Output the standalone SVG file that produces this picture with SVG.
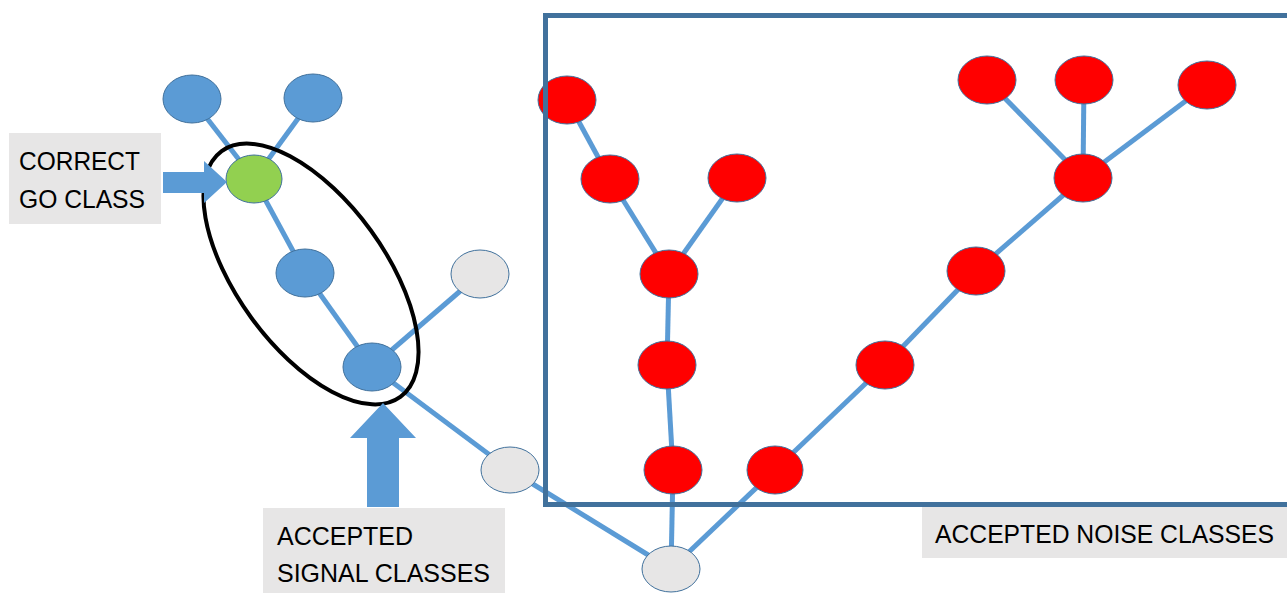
<svg xmlns="http://www.w3.org/2000/svg" width="1287" height="593" viewBox="0 0 1287 593">
<style>
.e{stroke:#5B9BD5;stroke-width:5;fill:none}
.blue{fill:#5B9BD5;stroke:#41719C;stroke-width:1}
.green{fill:#92D050;stroke:#41719C;stroke-width:1}
.grey{fill:#E7E6E6;stroke:#41719C;stroke-width:1}
.red{fill:#FF0000;stroke:#41719C;stroke-width:1}
.lbl{fill:#E7E6E6}
.t{font-family:"Liberation Sans",Arial,sans-serif;font-size:26px;fill:#000}
.arrow{fill:#5B9BD5}
</style>
<rect width="1287" height="593" fill="#fff"/>
<g id="connectors">
<line class="e" x1="192" y1="99" x2="254" y2="179"/>
<line class="e" x1="313" y1="98" x2="254" y2="179"/>
<line class="e" x1="254" y1="179" x2="305" y2="273"/>
<line class="e" x1="305" y1="273" x2="372" y2="367"/>
<line class="e" x1="372" y1="367" x2="480" y2="274"/>
<line class="e" x1="372" y1="367" x2="510" y2="470"/>
<line class="e" x1="510" y1="470" x2="671" y2="569"/>
<line class="e" x1="673" y1="470" x2="671" y2="569"/>
<line class="e" x1="775" y1="470" x2="671" y2="569"/>
<line class="e" x1="567" y1="100" x2="610" y2="179"/>
<line class="e" x1="610" y1="179" x2="669" y2="274"/>
<line class="e" x1="737" y1="178" x2="669" y2="274"/>
<line class="e" x1="669" y1="274" x2="667" y2="365"/>
<line class="e" x1="667" y1="365" x2="673" y2="470"/>
<line class="e" x1="775" y1="470" x2="885" y2="365"/>
<line class="e" x1="885" y1="365" x2="976" y2="271"/>
<line class="e" x1="976" y1="271" x2="1083" y2="178"/>
<line class="e" x1="1083" y1="178" x2="987" y2="80"/>
<line class="e" x1="1083" y1="178" x2="1084" y2="80"/>
<line class="e" x1="1083" y1="178" x2="1207" y2="85"/>
</g>
<g id="n-blue-tl"><ellipse class="blue" cx="192" cy="99" rx="29" ry="24"/></g>
<g id="n-blue-tr"><ellipse class="blue" cx="313" cy="98" rx="29" ry="24"/></g>
<g id="n-green"><ellipse class="green" cx="254" cy="179" rx="28" ry="24"/></g>
<g id="n-blue-mid"><ellipse class="blue" cx="305" cy="273" rx="29" ry="24"/></g>
<g id="n-blue-bot"><ellipse class="blue" cx="372" cy="367" rx="29" ry="24"/></g>
<g id="n-grey-upper"><ellipse class="grey" cx="480" cy="274" rx="29" ry="24"/></g>
<g id="n-grey-lower"><ellipse class="grey" cx="510" cy="470" rx="29" ry="23"/></g>
<g id="n-grey-root"><ellipse class="grey" cx="671" cy="569" rx="29" ry="23"/></g>
<g id="n-r1"><ellipse class="red" cx="567" cy="100" rx="29" ry="24"/></g>
<g id="n-r2"><ellipse class="red" cx="610" cy="179" rx="29" ry="24"/></g>
<g id="n-r3"><ellipse class="red" cx="737" cy="178" rx="29" ry="24"/></g>
<g id="n-r4"><ellipse class="red" cx="669" cy="274" rx="29" ry="24"/></g>
<g id="n-r5"><ellipse class="red" cx="667" cy="365" rx="29" ry="24"/></g>
<g id="n-r6"><ellipse class="red" cx="673" cy="470" rx="29" ry="24"/></g>
<g id="n-r7"><ellipse class="red" cx="775" cy="470" rx="28" ry="24"/></g>
<g id="n-r8"><ellipse class="red" cx="885" cy="365" rx="29" ry="24"/></g>
<g id="n-r9"><ellipse class="red" cx="976" cy="271" rx="29" ry="24"/></g>
<g id="n-r10"><ellipse class="red" cx="1083" cy="178" rx="29" ry="24"/></g>
<g id="n-r11"><ellipse class="red" cx="987" cy="80" rx="29" ry="24"/></g>
<g id="n-r12"><ellipse class="red" cx="1084" cy="80" rx="29" ry="24"/></g>
<g id="n-r13"><ellipse class="red" cx="1207" cy="85" rx="29" ry="24"/></g>
<g id="signal-ellipse"><ellipse cx="311" cy="274" rx="152" ry="74" transform="rotate(54 311 274)" fill="none" stroke="#000" stroke-width="4"/></g>
<g id="noise-box"><rect x="545.5" y="15.5" width="800" height="489" fill="none" stroke="#41719C" stroke-width="5"/></g>
<g id="arrow-right"><polygon class="arrow" points="163,172 204,172 204,161 227,182 204,203 204,193 163,193"/></g>
<g id="arrow-up"><polygon class="arrow" points="383,403 416,438 399,438 399,507 367,507 367,438 350,438"/></g>
<g id="label-correct">
<rect class="lbl" x="9" y="133" width="152" height="91"/>
<text class="t" x="19" y="170" textLength="121" lengthAdjust="spacingAndGlyphs">CORRECT</text>
<text class="t" x="19" y="208" textLength="126" lengthAdjust="spacingAndGlyphs">GO CLASS</text>
</g>
<g id="label-signal">
<rect class="lbl" x="263" y="508" width="242" height="85"/>
<text class="t" x="277" y="545" textLength="136" lengthAdjust="spacingAndGlyphs">ACCEPTED</text>
<text class="t" x="277" y="582" textLength="213" lengthAdjust="spacingAndGlyphs">SIGNAL CLASSES</text>
</g>
<g id="label-noise">
<rect class="lbl" x="922" y="507" width="365" height="51"/>
<text class="t" x="935" y="543" textLength="339" lengthAdjust="spacingAndGlyphs">ACCEPTED NOISE CLASSES</text>
</g>
</svg>
